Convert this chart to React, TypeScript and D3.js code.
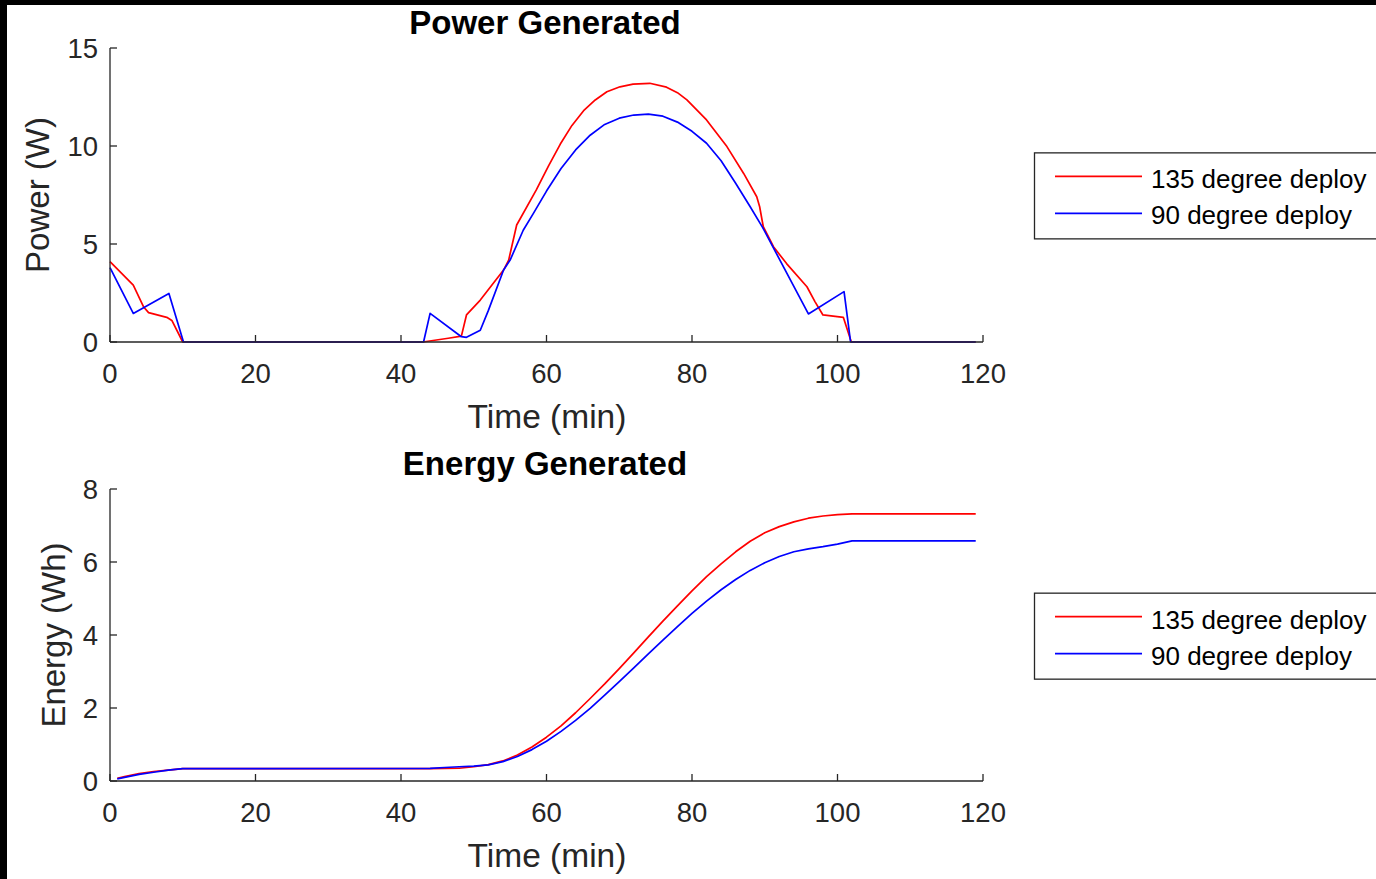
import React from "react";
import * as d3 from "d3";

const timePowerRed = [0, 3.2, 4.6, 5.3, 7.8, 8.5, 10, 43, 46.5, 48.3, 49, 50.9, 54.1, 54.8, 55.9, 58.6, 60.3, 61.9, 63.5, 65.1, 66.7, 68.3, 70.1, 71.9, 74.2, 76.5, 78, 79.3, 82, 84.8, 87.1, 88.9, 89.3, 89.8, 91.2, 93, 95.8, 96.9, 98, 100.8, 101.9, 119];
const powerRed = [4.1, 2.9, 1.8, 1.5, 1.26, 1.1, 0, 0, 0.19, 0.3, 1.38, 2.14, 3.67, 4.18, 5.97, 7.76, 9.0, 10.1, 11.05, 11.8, 12.35, 12.77, 13.02, 13.16, 13.2, 13.0, 12.72, 12.35, 11.33, 9.97, 8.6, 7.41, 6.9, 5.88, 4.86, 4.0, 2.82, 2.06, 1.38, 1.26, 0, 0];

const timePowerBlue = [0, 3.2, 8.1, 10.1, 43.1, 44, 48.3, 49, 50.9, 52, 54.1, 55, 56.8, 58.2, 60, 62, 64, 66, 68, 70, 72, 74, 76, 78, 80, 82, 84, 86, 88, 89.7, 96, 100.9, 101.8, 119];
const powerBlue = [3.8, 1.46, 2.48, 0, 0, 1.46, 0.27, 0.24, 0.6, 1.6, 3.67, 4.18, 5.7, 6.56, 7.7, 8.85, 9.8, 10.55, 11.1, 11.42, 11.58, 11.63, 11.52, 11.22, 10.75, 10.14, 9.25, 8.1, 6.9, 5.85, 1.43, 2.57, 0, 0];

const timeEnergy = [1, 2, 4, 6, 8, 10, 44, 46, 48, 50, 52, 54, 56, 58, 60, 62, 64, 66, 68, 70, 72, 74, 76, 78, 80, 82, 84, 86, 88, 90, 92, 94, 96, 98, 100, 102, 119];
const energyRed = [0.07, 0.12, 0.2, 0.26, 0.3, 0.34, 0.34, 0.345, 0.35, 0.39, 0.45, 0.55, 0.71, 0.93, 1.2, 1.51, 1.87, 2.26, 2.66, 3.08, 3.51, 3.95, 4.38, 4.8, 5.21, 5.6, 5.95, 6.28, 6.57, 6.8, 6.97, 7.1, 7.2, 7.26, 7.3, 7.32, 7.32];
const energyBlue = [0.06, 0.1, 0.18, 0.24, 0.3, 0.34, 0.345, 0.37, 0.39, 0.41, 0.44, 0.53, 0.67, 0.86, 1.09, 1.36, 1.66, 1.99, 2.35, 2.72, 3.1, 3.48, 3.86, 4.23, 4.59, 4.93, 5.24, 5.52, 5.77, 5.98, 6.15, 6.28, 6.36, 6.42, 6.49, 6.58, 6.58];

const xTicks = [0, 20, 40, 60, 80, 100, 120];
const powerTicks = [0, 5, 10, 15];
const energyTicks = [0, 2, 4, 6, 8];
const seriesNames = ["135 degree deploy", "90 degree deploy"];
const seriesColors = ["#ff0000", "#0000ff"];

const FONT = "'Liberation Sans', Arial, Helvetica, sans-serif";
const AX = "#262626";

type PanelProps = {
  top: number;
  bottom: number;
  yMax: number;
  yTicks: number[];
  title: string;
  ylabel: string;
  ylabelX: number;
  series: { t: number[]; v: number[]; color: string }[];
};

function Panel({ top, bottom, yMax, yTicks, title, ylabel, ylabelX, series }: PanelProps) {
  const left = 110;
  const right = 983;
  const x = d3.scaleLinear().domain([0, 120]).range([left, right]);
  const y = d3.scaleLinear().domain([0, yMax]).range([bottom, top]);
  const tickLen = 7;
  const line = d3
    .line<[number, number]>()
    .x((d) => x(d[0]))
    .y((d) => y(d[1]));
  const legTop = top + (bottom - top) * 0.355;
  return (
    <g>
      <text x={545} y={top - 14} textAnchor="middle" fontFamily={FONT} fontWeight="bold" fontSize={33} fill="#000">
        {title}
      </text>
      {series.map((s, i) => (
        <path
          key={i}
          d={line(s.t.map((t, j) => [t, s.v[j]] as [number, number])) || ""}
          fill="none"
          stroke={s.color}
          strokeWidth={1.7}
          strokeLinejoin="round"
        />
      ))}
      <line x1={left} x2={right} y1={bottom} y2={bottom} stroke={AX} strokeWidth={1.3} />
      <line x1={left} x2={left} y1={top} y2={bottom} stroke={AX} strokeWidth={1.3} />
      {xTicks.map((t) => (
        <g key={"x" + t}>
          <line x1={x(t)} x2={x(t)} y1={bottom} y2={bottom - tickLen} stroke={AX} strokeWidth={1.3} />
          <text x={x(t)} y={bottom + 41} textAnchor="middle" fontFamily={FONT} fontSize={27.5} fill={AX}>
            {t}
          </text>
        </g>
      ))}
      {yTicks.map((t) => (
        <g key={"y" + t}>
          <line x1={left} x2={left + tickLen} y1={y(t)} y2={y(t)} stroke={AX} strokeWidth={1.3} />
          <text x={left - 12} y={y(t) + 10} textAnchor="end" fontFamily={FONT} fontSize={27.5} fill={AX}>
            {t}
          </text>
        </g>
      ))}
      <text x={547} y={bottom + 86} textAnchor="middle" fontFamily={FONT} fontSize={33.5} fill={AX}>
        Time (min)
      </text>
      <text
        transform={`translate(${ylabelX},${(top + bottom) / 2}) rotate(-90)`}
        textAnchor="middle"
        fontFamily={FONT}
        fontSize={33}
        fill={AX}
      >
        {ylabel}
      </text>
      <rect x={1034.5} y={legTop + 0.5} width={360} height={86} fill="#fff" stroke={AX} strokeWidth={1.3} />
      {seriesNames.map((n, i) => (
        <g key={n}>
          <line x1={1055} x2={1142} y1={legTop + 24 + i * 37} y2={legTop + 24 + i * 37} stroke={seriesColors[i]} strokeWidth={1.7} />
          <text x={1151} y={legTop + 36 + i * 36} fontFamily={FONT} fontSize={26} fill="#000">
            {n}
          </text>
        </g>
      ))}
    </g>
  );
}

export default function App() {
  return (
    <svg
      width={1376}
      height={879}
      style={{ position: "absolute", left: 0, top: 0, display: "block" }}
    >
      <rect x={0} y={0} width={1376} height={879} fill="#fff" />
      <Panel
        top={48}
        bottom={342}
        yMax={15}
        yTicks={powerTicks}
        title="Power Generated"
        ylabel="Power (W)"
        ylabelX={49}
        series={[
          { t: timePowerRed, v: powerRed, color: seriesColors[0] },
          { t: timePowerBlue, v: powerBlue, color: seriesColors[1] },
        ]}
      />
      <Panel
        top={489}
        bottom={781}
        yMax={8}
        yTicks={energyTicks}
        title="Energy Generated"
        ylabel="Energy (Wh)"
        ylabelX={65}
        series={[
          { t: timeEnergy, v: energyRed, color: seriesColors[0] },
          { t: timeEnergy, v: energyBlue, color: seriesColors[1] },
        ]}
      />
      <rect x={0} y={0} width={1376} height={5} fill="#000" />
      <rect x={0} y={0} width={7} height={879} fill="#000" />
    </svg>
  );
}
